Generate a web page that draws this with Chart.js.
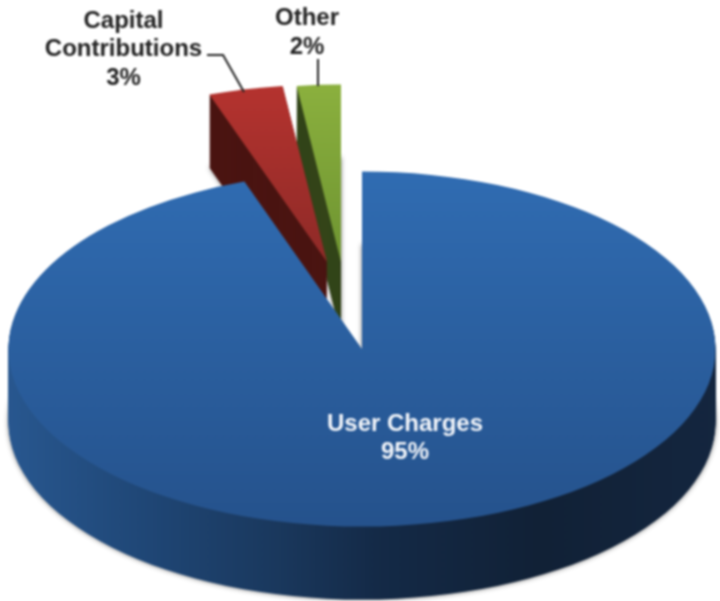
<!DOCTYPE html>
<html>
<head>
<meta charset="utf-8">
<title>Revenue sources</title>
<style>
    html, body { margin: 0; padding: 0; background: #fff; }
    canvas { display: block; filter: blur(0.8px); }
</style>
<script src="https://cdn.jsdelivr.net/npm/chart.js@4"></script>
</head>
<body>
<canvas id="pieChart" width="720" height="601"></canvas>

<script>
    const categories = ["User Charges", "Capital Contributions", "Other"];
    const shares = [94.6, 3.4, 2.0];

    // look of the tilted pie
    const radiusX = 353.5;
    const radiusY = 177.5;
    const depth = 73;
    const slicePull = [[0, 0], [-35, -87], [-21, -87]];
    const faceColors = [["#306cb2", "#25528c"], ["#b5332f", "#8e2a27"], ["#8bb03e", "#6e9431"]];
    const sideColors = ["", "#4a1411", "#34451a"];
    const blueSideStops = [[0, "#28578f"], [0.2, "#1f4675"], [0.38, "#1a385d"], [0.52, "#142a47"], [0.75, "#112136"], [1, "#14263f"]];

    // label text blocks: centre x, first line y, line gap
    const labelSpots = [
        { x: 405, y: 424, gap: 28, color: "#f2f5fa", lines: ["User Charges"] },
        { x: 123.5, y: 21, gap: 28.5, color: "#222", lines: ["Capital", "Contributions"] },
        { x: 307, y: 18, gap: 29, color: "#222", lines: ["Other"] }
    ];
    const leaders = [
        [[207, 55], [223, 55], [244, 92]],
        [[318, 59], [318, 86]]
    ];

    function slicePath(ctx, arc, index, drop) {
        const scaleX = radiusX / arc.outerRadius;
        const scaleY = radiusY / arc.outerRadius;
        ctx.save();
        ctx.translate(arc.x + slicePull[index][0], arc.y + slicePull[index][1] + drop);
        ctx.scale(scaleX, scaleY);
        ctx.beginPath();
        ctx.moveTo(0, 0);
        ctx.arc(0, 0, arc.outerRadius, arc.startAngle, arc.endAngle);
        ctx.closePath();
        ctx.restore();
    }

    const tiltedPie = {
        id: "tiltedPie",
        beforeDatasetsDraw(chart) {
            const ctx = chart.ctx;
            const arcs = chart.getDatasetMeta(0).data;

            // back slices first, the big one covers their lower part
            for (let i = arcs.length - 1; i >= 0; i--) {
                const arc = arcs[i];
                const pull = slicePull[i];

                let sideFill = sideColors[i];
                if (i === 0) {
                    sideFill = ctx.createLinearGradient(arc.x - radiusX, 0, arc.x + radiusX, 0);
                    blueSideStops.forEach(s => sideFill.addColorStop(s[0], s[1]));
                }

                for (let d = depth; d > 0; d--) {
                    ctx.save();
                    if (d === depth) {
                        ctx.shadowColor = "rgba(0, 0, 0, 0.55)";
                        ctx.shadowBlur = 5;
                    }
                    slicePath(ctx, arc, i, d);
                    ctx.fillStyle = sideFill;
                    ctx.fill();
                    ctx.restore();
                }

                const top = arc.y + pull[1] - radiusY;
                const bottom = i === 0 ? arc.y + radiusY : arc.y + pull[1];
                const faceFill = ctx.createLinearGradient(0, top, 0, bottom);
                faceFill.addColorStop(0, faceColors[i][0]);
                faceFill.addColorStop(1, faceColors[i][1]);
                slicePath(ctx, arc, i, 0);
                ctx.fillStyle = faceFill;
                ctx.fill();
            }
            return false;
        },
        afterDraw(chart) {
            const ctx = chart.ctx;
            ctx.save();

            ctx.strokeStyle = "#222";
            ctx.lineWidth = 2;
            leaders.forEach(points => {
                ctx.beginPath();
                points.forEach((p, n) => n ? ctx.lineTo(p[0], p[1]) : ctx.moveTo(p[0], p[1]));
                ctx.stroke();
            });

            ctx.font = "bold 24px 'Liberation Sans', Arial, sans-serif";
            ctx.textAlign = "center";
            ctx.textBaseline = "middle";
            labelSpots.forEach((spot, i) => {
                const lines = spot.lines.concat(Math.round(shares[i]) + "%");
                ctx.fillStyle = spot.color;
                lines.forEach((line, n) => ctx.fillText(line, spot.x, spot.y + n * spot.gap));
            });
            ctx.restore();
        }
    };

    new Chart(document.getElementById("pieChart"), {
        type: "pie",
        data: {
            labels: categories,
            datasets: [{
                data: shares,
                borderWidth: 0,
                hoverOffset: 0
            }]
        },
        options: {
            responsive: false,
            animation: false,
            // puts the pie centre where the tilted disc sits
            layout: { padding: { left: 4, right: 0, top: 97, bottom: 0 } },
            plugins: {
                legend: { display: false },
                tooltip: { enabled: false }
            }
        },
        plugins: [tiltedPie]
    });
</script>
</body>
</html>
